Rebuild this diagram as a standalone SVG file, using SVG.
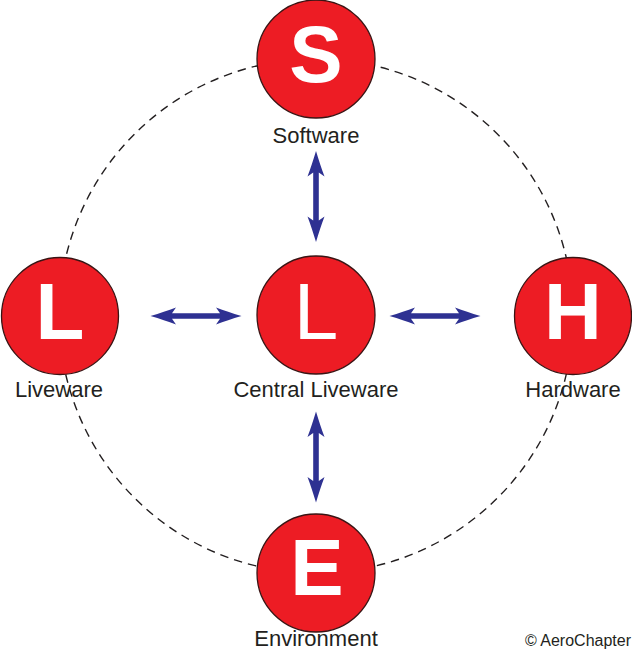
<svg xmlns="http://www.w3.org/2000/svg" xmlns:xlink="http://www.w3.org/1999/xlink" width="632" height="660" viewBox="0 0 632 660">
  <style>
    .ring { fill: none; stroke: #231F20; stroke-width: 1.4; stroke-dasharray: 8.5 6; }
    .node { fill: #ED1C24; stroke: #3A1414; stroke-width: 1.3; }
    .letter { fill: #FFFFFF; font-family: "Liberation Sans", Arial, sans-serif; font-size: 80px; font-weight: bold; text-anchor: middle; }
    .letter.reg { font-weight: normal; }
    .label { fill: #231F20; font-family: "Liberation Sans", Arial, sans-serif; font-size: 22px; text-anchor: middle; }
    .credit { fill: #231F20; font-family: "Liberation Sans", Arial, sans-serif; font-size: 16px; text-anchor: end; }
    .arrow { fill: #2E3192; }
  </style>
  <defs>
    <path id="dbl" d="M-45.5,0 C-36,-2.8 -28,-5.5 -20,-8.5 L-24,-2.8 L24,-2.8 L20,-8.5 C28,-5.5 36,-2.8 45.5,0 C36,2.8 28,5.5 20,8.5 L24,2.8 L-24,2.8 L-20,8.5 C-28,5.5 -36,2.8 -45.5,0 Z"/>
  </defs>
  <rect width="632" height="660" fill="#FFFFFF"/>
  <circle class="ring" cx="316" cy="316" r="257"/>
  <g id="connectors">
    <use xlink:href="#dbl" class="arrow" transform="translate(316,196.5) rotate(90)"/>
    <use xlink:href="#dbl" class="arrow" transform="translate(196,316)"/>
    <use xlink:href="#dbl" class="arrow" transform="translate(435,316)"/>
    <use xlink:href="#dbl" class="arrow" transform="translate(316,457) rotate(90)"/>
  </g>
  <g id="node-software">
    <circle class="node" cx="316" cy="59" r="59"/>
    <text class="letter" x="316" y="82">S</text>
    <text class="label" x="316" y="143">Software</text>
  </g>
  <g id="node-central-liveware">
    <circle class="node" cx="316" cy="315" r="59"/>
    <text class="letter reg" x="316" y="339">L</text>
    <text class="label" x="316" y="397">Central Liveware</text>
  </g>
  <g id="node-liveware">
    <circle class="node" cx="60" cy="316" r="58.5"/>
    <text class="letter" x="60" y="339">L</text>
    <text class="label" x="59" y="397">Liveware</text>
  </g>
  <g id="node-hardware">
    <circle class="node" cx="573" cy="316" r="58.5"/>
    <text class="letter" x="573" y="339">H</text>
    <text class="label" x="573" y="397">Hardware</text>
  </g>
  <g id="node-environment">
    <circle class="node" cx="316" cy="573" r="59"/>
    <text class="letter" x="317" y="595">E</text>
    <text class="label" x="316" y="646">Environment</text>
  </g>
  <text class="credit" x="631" y="646">© AeroChapter</text>
</svg>
